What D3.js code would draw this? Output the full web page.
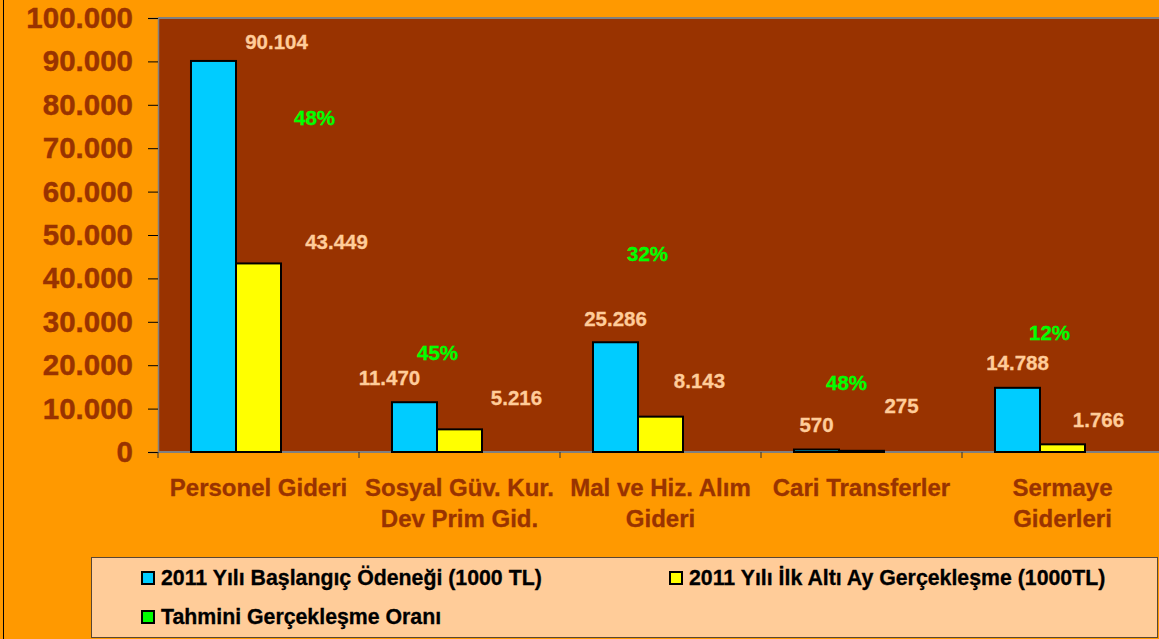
<!DOCTYPE html>
<html>
<head>
<meta charset="utf-8">
<script src="https://cdn.jsdelivr.net/npm/d3@7"></script>
<style>
  html, body { margin: 0; padding: 0; background: #ff9900; }
  svg { display: block; font-family: "Liberation Sans", Arial, sans-serif; font-weight: bold; }
</style>
</head>
<body>
<div id="chart"></div>
<script>
// data
var categories = ["Personel Gideri", "Sosyal Güv. Kur. Dev Prim Gid.", "Mal ve Hiz. Alım Gideri", "Cari Transferler", "Sermaye Giderleri"];
var categoryLines = [
  ["Personel Gideri"],
  ["Sosyal Güv. Kur.", "Dev Prim Gid."],
  ["Mal ve Hiz. Alım", "Gideri"],
  ["Cari Transferler"],
  ["Sermaye", "Giderleri"]
];
var baslangicOdenegi = [90104, 11470, 25286, 570, 14788];
var ilkAltiAy = [43449, 5216, 8143, 275, 1766];
var gerceklesmeOrani = [48, 45, 32, 48, 12];
var yTicks = [0, 10000, 20000, 30000, 40000, 50000, 60000, 70000, 80000, 90000, 100000];
var seriesNames = [
  "2011 Yılı Başlangıç Ödeneği (1000 TL)",
  "2011 Yılı İlk Altı Ay Gerçekleşme (1000TL)",
  "Tahmini Gerçekleşme Oranı"
];
var seriesColors = ["#00ccff", "#ffff00", "#00ff00"];

var W = 1159, H = 639;
var margin = { top: 18, left: 158 };
var plotW = 1005, plotH = 434;

var trLocale = d3.formatLocale({ decimal: ",", thousands: ".", grouping: [3], currency: ["", ""] });
var fmt = trLocale.format(",d");

var svg = d3.select("#chart").append("svg")
  .attr("width", W).attr("height", H);

svg.append("rect").attr("width", W).attr("height", H).attr("fill", "#ff9900");
svg.append("line").attr("x1", 3.5).attr("x2", 3.5).attr("y1", 0).attr("y2", H)
  .attr("stroke", "#000").attr("stroke-width", 1);

var g = svg.append("g").attr("transform", "translate(" + margin.left + "," + margin.top + ")");

var x0 = d3.scaleBand().domain(categories).range([0, plotW]).padding(0);
var x1 = d3.scaleBand().domain([0, 1, 2]).range([0, x0.bandwidth()])
  .paddingInner(0).paddingOuter(0.733);
var y = d3.scaleLinear().domain([0, 100000]).range([plotH, 0]);

// plot area
g.append("rect").attr("width", plotW).attr("height", plotH).attr("fill", "#993300");
g.append("line").attr("x1", 0).attr("x2", plotW).attr("y1", 0).attr("y2", 0)
  .attr("stroke", "#808080").attr("stroke-width", 2);

// y axis
var yAxis = g.append("g").call(d3.axisLeft(y).tickValues(yTicks).tickFormat(fmt).tickSize(10).tickPadding(15));
yAxis.select(".domain").attr("stroke", "#808080").attr("stroke-width", 1.5);
yAxis.selectAll(".tick line").attr("stroke", "#000");
yAxis.selectAll(".tick text")
  .attr("fill", "#993300").style("font-size", "29.5px").style("font-weight", "bold")
  .style("font-family", "Liberation Sans, Arial, sans-serif")
  .attr("stroke", "#993300").attr("stroke-width", 0.4);

// x axis
var xa = g.append("g").attr("transform", "translate(0," + plotH + ")");
xa.append("line").attr("x1", 0).attr("x2", plotW).attr("stroke", "#808080").attr("stroke-width", 2);
xa.selectAll(".xt").data(categories.concat([null])).enter().append("line")
  .attr("x1", function (d, i) { return i * x0.step(); })
  .attr("x2", function (d, i) { return i * x0.step(); })
  .attr("y1", 0).attr("y2", 6).attr("stroke", "#333");

var catText = xa.selectAll(".cat").data(categories).enter().append("text")
  .attr("x", function (d) { return x0(d) + x0.bandwidth() / 2; })
  .attr("y", 44)
  .attr("text-anchor", "middle")
  .attr("fill", "#993300")
  .attr("stroke", "#993300").attr("stroke-width", 0.3)
  .style("font-size", "24px");
catText.each(function (d, i) {
  var t = d3.select(this);
  categoryLines[i].forEach(function (line, k) {
    t.append("tspan").attr("x", x0(d) + x0.bandwidth() / 2).attr("dy", k === 0 ? 0 : 31).text(line);
  });
});

// bars
var barSeries = [baslangicOdenegi, ilkAltiAy];
barSeries.forEach(function (vals, s) {
  g.selectAll(".bar" + s).data(vals).enter().append("rect")
    .attr("x", function (d, i) { return x0(categories[i]) + x1(s); })
    .attr("y", function (d) { return y(d); })
    .attr("width", x1.bandwidth())
    .attr("height", function (d) { return plotH - y(d); })
    .attr("fill", seriesColors[s])
    .attr("stroke", "#000").attr("stroke-width", 2);
});

// data labels, nudged as in the original
var nudge = [
  [[63, -19], [-25, -25], [0, -24], [0, -25], [0, -25]],
  [[78, -22], [57, -32], [39, -36], [40, -45], [36, -25]],
  [[11, -334], [-67, -99], [-58, -198], [-60, -69], [-58, -119]]
];
var labelData = [baslangicOdenegi, ilkAltiAy, gerceklesmeOrani];
labelData.forEach(function (vals, s) {
  var col = s === 2 ? "#00ff00" : "#ffcc99";
  g.selectAll(".lbl" + s).data(vals).enter().append("text")
    .attr("x", function (d, i) { return x0(categories[i]) + x1(s) + x1.bandwidth() / 2 + nudge[s][i][0]; })
    .attr("y", function (d, i) { return (s === 2 ? y(0) : y(d)) + nudge[s][i][1]; })
    .attr("dy", "0.36em")
    .attr("text-anchor", "middle")
    .attr("fill", col).attr("stroke", col).attr("stroke-width", 0.3)
    .style("font-size", "20.5px")
    .text(function (d) { return s === 2 ? d + "%" : fmt(d); });
});

// legend
var lg = svg.append("g");
lg.append("rect").attr("x", 91.5).attr("y", 557.5).attr("width", 1066).attr("height", 80)
  .attr("fill", "#ffcc99").attr("stroke", "#5a4632").attr("stroke-width", 1);
var legendPos = [[141, 585], [669, 585], [141, 624]];
seriesNames.forEach(function (name, i) {
  lg.append("rect").attr("x", legendPos[i][0] + 1).attr("y", legendPos[i][1] - 13)
    .attr("width", 12).attr("height", 12)
    .attr("fill", seriesColors[i]).attr("stroke", "#000").attr("stroke-width", 2);
  lg.append("text").attr("x", legendPos[i][0] + 20).attr("y", legendPos[i][1])
    .attr("fill", "#000").attr("stroke", "#000").attr("stroke-width", 0.3)
    .style("font-size", "21.3px").text(name);
});
</script>
</body>
</html>
